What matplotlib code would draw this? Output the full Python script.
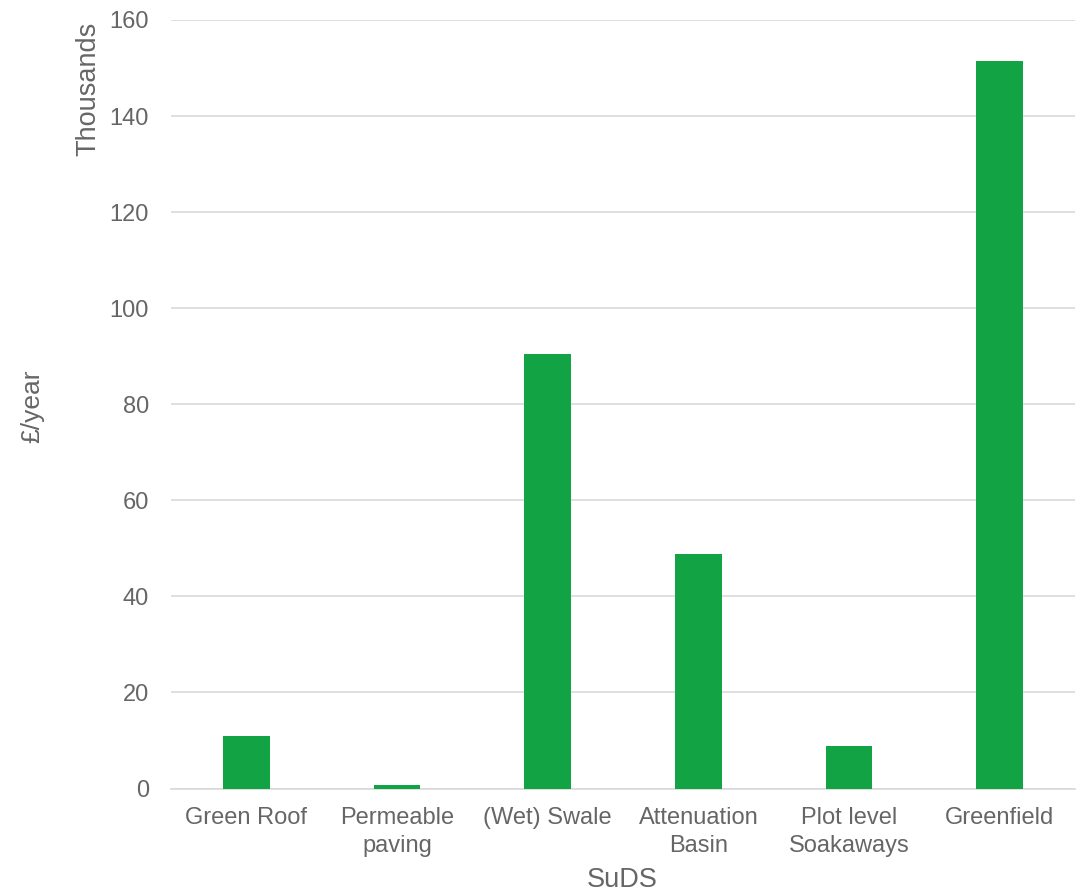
import matplotlib
matplotlib.use("Agg")
import matplotlib.pyplot as plt

categories = ["Green Roof", "Permeable\npaving", "(Wet) Swale", "Attenuation\nBasin", "Plot level\nSoakaways", "Greenfield"]
values = [10.9, 0.65, 90.4, 48.8, 8.85, 151.4]
yticks = [0, 20, 40, 60, 80, 100, 120, 140, 160]

plt.rcParams['font.family'] = ['Liberation Sans', 'DejaVu Sans']
gray = '#666666'
W, H = 1077, 893

fig = plt.figure(figsize=(W / 100, H / 100), dpi=100)
x0, x1, y0, y1 = 171, 1075, 788.5, 20
ax = fig.add_axes([x0 / W, 1 - y0 / H, (x1 - x0) / W, (y0 - y1) / H])
x = range(len(categories))
ax.bar(x, values, width=0.31, color='#12A444', zorder=3)
ax.set_xlim(-0.5, len(categories) - 0.5)
ax.set_ylim(0, 160)
ax.set_yticks(yticks)
ax.set_xticks(list(x))
ax.set_xticklabels(categories, linespacing=1.35)
ax.grid(axis='y', color='#D9D9D9', linewidth=1.2, zorder=0)
for s in ['top', 'right', 'left']:
    ax.spines[s].set_visible(False)
ax.spines['bottom'].set_color('#D9D9D9')
ax.spines['bottom'].set_linewidth(1.2)
ax.tick_params(axis='both', length=0, labelsize=17, labelcolor=gray)
ax.tick_params(axis='y', pad=16)
ax.tick_params(axis='x', pad=13)
fig.text(622 / W, 1 - 880 / H, "SuDS", fontsize=19.5, color=gray, ha='center', va='center')
fig.text(32 / W, 1 - 406 / H, "£/year", rotation=90, fontsize=19, color=gray, ha='center', va='center')
fig.text(88 / W, 1 - 89 / H, "Thousands", rotation=90, fontsize=19.5, color=gray, ha='center', va='center')
fig.savefig("out.png", dpi=100)
